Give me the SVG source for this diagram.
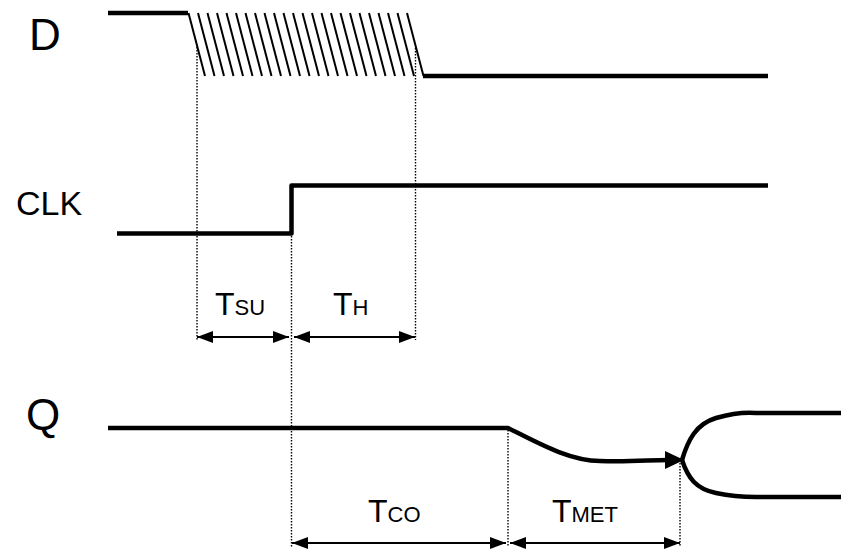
<svg xmlns="http://www.w3.org/2000/svg" width="841" height="550" viewBox="0 0 841 550">
<defs>
<marker id="ah" viewBox="0 0 16 12" refX="16" refY="6" markerWidth="16" markerHeight="12" markerUnits="userSpaceOnUse" orient="auto-start-reverse">
<path d="M0,0 L16,6 L0,12 Z" fill="#000"/>
</marker>
</defs>
<style>
.sig{fill:none;stroke:#000;stroke-width:4.5;stroke-linejoin:round}
.hat{stroke:#000;stroke-width:2}
.dot{stroke:#000;stroke-width:1.4;stroke-dasharray:1.4 1.6;fill:none}
.dim{stroke:#000;stroke-width:2;fill:none;marker-start:url(#ah);marker-end:url(#ah)}
.lbl{font-family:"Liberation Sans",Arial,sans-serif;fill:#000}
</style>
<rect width="841" height="550" fill="#fff"/>
<g id="D">
<text class="lbl" x="29" y="50" font-size="44">D</text>
<path class="sig" d="M108,13 H188"/>
<path class="sig" d="M423,76 H768"/>
<g class="hat">
<line x1="188.5" y1="13" x2="205" y2="76"/><line x1="198" y1="13" x2="214.5" y2="76"/><line x1="207.5" y1="13" x2="224" y2="76"/><line x1="217" y1="13" x2="233.5" y2="76"/><line x1="226.5" y1="13" x2="243" y2="76"/><line x1="236" y1="13" x2="252.5" y2="76"/><line x1="245.5" y1="13" x2="262" y2="76"/><line x1="255" y1="13" x2="271.5" y2="76"/><line x1="264.5" y1="13" x2="281" y2="76"/><line x1="274" y1="13" x2="290.5" y2="76"/><line x1="283.5" y1="13" x2="300" y2="76"/><line x1="293" y1="13" x2="309.5" y2="76"/><line x1="302.5" y1="13" x2="319" y2="76"/><line x1="312" y1="13" x2="328.5" y2="76"/><line x1="321.5" y1="13" x2="338" y2="76"/><line x1="331" y1="13" x2="347.5" y2="76"/><line x1="340.5" y1="13" x2="357" y2="76"/><line x1="350" y1="13" x2="366.5" y2="76"/><line x1="359.5" y1="13" x2="376" y2="76"/><line x1="369" y1="13" x2="385.5" y2="76"/><line x1="378.5" y1="13" x2="395" y2="76"/><line x1="388" y1="13" x2="404.5" y2="76"/><line x1="397.5" y1="13" x2="414" y2="76"/><line x1="407" y1="13" x2="423.5" y2="76"/>
</g>
</g>
<g id="CLK">
<text class="lbl" x="16" y="215" font-size="34">CLK</text>
<path class="sig" d="M117,233.5 H291.5 V185.5 H768"/>
</g>
<g id="Q">
<text class="lbl" x="26" y="430" font-size="44">Q</text>
<path class="sig" d="M108,428 H508 C540,444 570,461 600,461 C630,462 650,460 668,460"/>
<path d="M684,460 L665,451 L665,469 Z" fill="#000"/>
<path class="sig" d="M682,460 C688,440 696,424 716,418 C730,414 745,412 756,413 H841"/>
<path class="sig" d="M682,460 C688,478 696,489 716,493 C730,496 745,497 756,497 H841"/>
</g>
<g id="connectors">
<path class="dot" d="M197,47 V340"/>
<path class="dot" d="M415.5,48 V340"/>
<path class="dot" d="M291.5,236 V547"/>
<path class="dot" d="M508,430 V547"/>
<path class="dot" d="M680,463 V547"/>
<line class="dim" x1="197" y1="337" x2="289" y2="337"/>
<line class="dim" x1="294" y1="337" x2="415" y2="337"/>
<line class="dim" x1="292" y1="543" x2="506" y2="543"/>
<line class="dim" x1="510" y1="543" x2="680" y2="543"/>
</g>
<g id="labels">
<text class="lbl" x="215" y="315" font-size="32">T<tspan font-size="22">SU</tspan></text>
<text class="lbl" x="333" y="315" font-size="32">T<tspan font-size="22">H</tspan></text>
<text class="lbl" x="368" y="522" font-size="32">T<tspan font-size="22">CO</tspan></text>
<text class="lbl" x="552" y="522" font-size="32">T<tspan font-size="22">MET</tspan></text>
</g>
</svg>
